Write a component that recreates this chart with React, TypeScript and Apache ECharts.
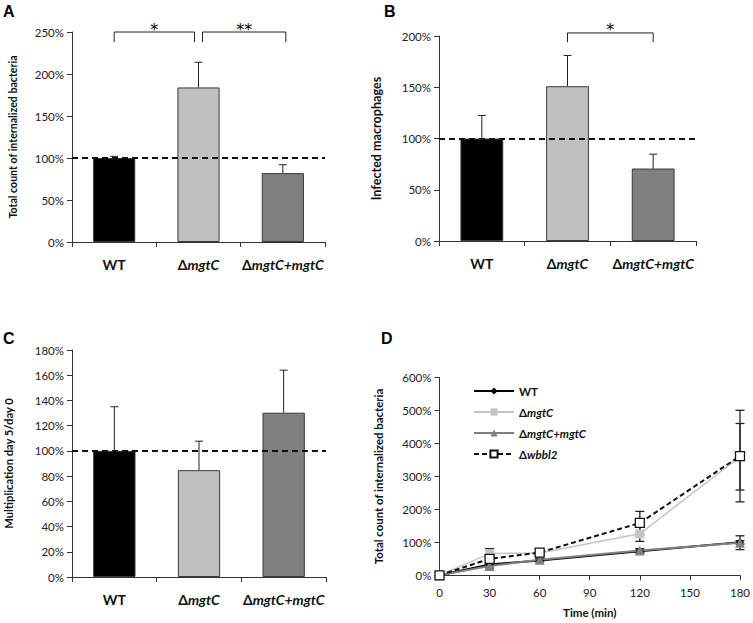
import React, { useEffect, useRef } from "react";
import * as echarts from "echarts";

// ---------- data ----------
const categories = ["WT", "ΔmgtC", "ΔmgtC+mgtC"];
const barColors = ["#000000", "#c0c0c0", "#808080"];

const aValues = [100, 184, 82];
const aUpper = [102, 214, 92];
const bValues = [100, 151, 70.7];
const bUpper = [122.5, 181, 84.7];
const cValues = [100, 84.7, 130.3];
const cUpper = [135, 107.7, 164];

const aBrackets = [
  [0, 1, 250, 238, 0, -4],
  [1, 2, 250, 238, 4, 3],
];
const aStars = ["*", "**"];
const bBrackets = [[1, 2, 203, 194, 0, 0]];
const bStars = ["*"];

const dTime = [0, 30, 60, 120, 180];
const dWT = [0, 33, 45, 73, 100];
const dMgtC = [0, 66, 68, 126, 360];
const dComp = [0, 28, 47, 75, 99];
const dWbbl2 = [0, 50, 69, 159, 362];
const dWTErr = [0, 4, 4, 5, 5];
const dMgtCErr = [0, 15, 6, 23, 101];
const dCompErr = [0, 6, 5, 6, 21];
const dWbbl2Err = [0, 8, 5, 35, 139];

const FONT = "Lato";

function richName(name: string) {
  if (name.startsWith("Δ")) return "{d|Δ}{i|" + name.slice(1) + "}";
  return "{n|" + name + "}";
}

function richStyles(size: number) {
  return {
    n: { fontSize: size, fontWeight: "bold", fontFamily: FONT, color: "#111" },
    d: { fontSize: size, fontWeight: "bold", fontFamily: FONT, color: "#111" },
    i: { fontSize: size, fontWeight: "bold", fontStyle: "italic", fontFamily: FONT, color: "#111" },
  };
}

const axisLineStyle = { color: "#333", width: 1 };

function catAxis(gridIndex: number) {
  return {
    type: "category",
    gridIndex,
    data: categories,
    boundaryGap: true,
    axisLine: { lineStyle: axisLineStyle },
    axisTick: { show: true, length: 5, lineStyle: axisLineStyle },
    axisLabel: {
      interval: 0,
      margin: 15,
      formatter: (v: string) => richName(v),
      rich: richStyles(14),
    },
  };
}

function valAxis(
  gridIndex: number,
  max: number,
  interval: number,
  name: string,
  nameGap: number,
  nameSize: number
) {
  return {
    type: "value",
    gridIndex,
    min: 0,
    max,
    interval,
    name,
    nameLocation: "middle",
    nameGap,
    nameTextStyle: { fontSize: nameSize, fontWeight: "bold", fontFamily: FONT, color: "#111" },
    axisLine: { show: true, lineStyle: axisLineStyle },
    axisTick: { show: true, length: 5, lineStyle: axisLineStyle },
    splitLine: { show: false },
    axisLabel: { formatter: "{value}%", fontSize: 11.5, fontFamily: FONT, color: "#222", margin: 8 },
  };
}

function barSeries(idx: number, values: number[]) {
  return {
    type: "bar",
    xAxisIndex: idx,
    yAxisIndex: idx,
    barWidth: "50%",
    data: values.map((v, i) => ({
      value: v,
      itemStyle: { color: barColors[i], borderColor: "#3a3a3a", borderWidth: 1 },
    })),
    markLine: {
      silent: true,
      symbol: "none",
      label: { show: false },
      lineStyle: { type: [6, 4], color: "#111", width: 2 },
      data: [{ yAxis: 100 }],
    },
  };
}

function upperErrSeries(idx: number, values: number[], upper: number[]) {
  return {
    type: "custom",
    xAxisIndex: idx,
    yAxisIndex: idx,
    silent: true,
    clip: false,
    data: values.map((v, i) => [i, v, upper[i]]),
    renderItem: (params: any, api: any) => {
      const x = api.value(0);
      const p0 = api.coord([x, api.value(1)]);
      const p1 = api.coord([x, api.value(2)]);
      const st = { stroke: "#222", lineWidth: 1 };
      return {
        type: "group",
        children: [
          { type: "line", shape: { x1: p0[0], y1: p0[1], x2: p1[0], y2: p1[1] }, style: st },
          { type: "line", shape: { x1: p1[0] - 4, y1: p1[1], x2: p1[0] + 4, y2: p1[1] }, style: st },
        ],
      };
    },
  };
}

function bracketSeries(idx: number, brackets: number[][], stars: string[]) {
  return {
    type: "custom",
    xAxisIndex: idx,
    yAxisIndex: idx,
    silent: true,
    clip: false,
    data: brackets,
    renderItem: (params: any, api: any) => {
      const c1 = api.value(0), c2 = api.value(1), top = api.value(2), bot = api.value(3);
      const o1 = api.value(4), o2 = api.value(5);
      const pa = api.coord([c1, top]);
      const pb = api.coord([c2, top]);
      const yb = api.coord([c1, bot])[1];
      const x1 = pa[0] + o1, x2 = pb[0] + o2, yt = pa[1];
      return {
        type: "group",
        children: [
          {
            type: "polyline",
            shape: { points: [[x1, yb], [x1, yt], [x2, yt], [x2, yb]] },
            style: { stroke: "#222", lineWidth: 1, fill: null },
          },
          {
            type: "text",
            x: (x1 + x2) / 2,
            y: yt - 3,
            style: {
              text: stars[params.dataIndex],
              fontSize: 16,
              fontFamily: "DejaVu Sans",
              fill: "#000",
              stroke: null,
              align: "center",
              verticalAlign: "middle",
            },
          },
        ],
      };
    },
  };
}

function dErrSeries(values: number[], errs: number[]) {
  const data: number[][] = [];
  dTime.forEach((t, i) => {
    if (errs[i] > 0) data.push([t, values[i] - errs[i], values[i] + errs[i]]);
  });
  return {
    type: "custom",
    xAxisIndex: 3,
    yAxisIndex: 3,
    silent: true,
    clip: false,
    z: 1,
    data,
    renderItem: (params: any, api: any) => {
      const x = api.value(0);
      const p0 = api.coord([x, api.value(1)]);
      const p1 = api.coord([x, api.value(2)]);
      const st = { stroke: "#222", lineWidth: 1.3 };
      return {
        type: "group",
        children: [
          { type: "line", shape: { x1: p0[0], y1: p0[1], x2: p1[0], y2: p1[1] }, style: st },
          { type: "line", shape: { x1: p1[0] - 4.5, y1: p1[1], x2: p1[0] + 4.5, y2: p1[1] }, style: st },
          { type: "line", shape: { x1: p0[0] - 4.5, y1: p0[1], x2: p0[0] + 4.5, y2: p0[1] }, style: st },
        ],
      };
    },
  };
}

function lineSeries(name: string, values: number[], opts: any) {
  return {
    name,
    type: "line",
    xAxisIndex: 3,
    yAxisIndex: 3,
    z: 3,
    data: dTime.map((t, i) => [t, values[i]]),
    ...opts,
  };
}

function panelLetter(text: string, x: number, y: number) {
  return {
    type: "text",
    x,
    y,
    style: { text, fontSize: 16, fontWeight: "bold", fontFamily: "Liberation Sans", fill: "#000" },
  };
}

export default function App() {
  const ref = useRef<HTMLDivElement>(null);
  useEffect(() => {
    if (!ref.current) return;
    const chart = echarts.init(ref.current, null, { renderer: "svg" });
    const option: any = {
      animation: false,
      backgroundColor: "#ffffff",
      textStyle: { fontFamily: FONT },
      graphic: [
        panelLetter("A", 3, 3),
        panelLetter("B", 384, 3),
        panelLetter("C", 3, 330),
        panelLetter("D", 381, 330),
      ],
      grid: [
        { left: 72, top: 32, width: 253, height: 210 },
        { left: 439, top: 36, width: 257, height: 205 },
        { left: 72, top: 350, width: 254, height: 227 },
        { left: 439.5, top: 377.7, width: 301, height: 197.6 },
      ],
      legend: {
        orient: "vertical",
        left: 468,
        top: 380,
        itemWidth: 40,
        itemHeight: 9,
        itemGap: 9,
        data: ["WT", "ΔmgtC", "ΔmgtC+mgtC", "Δwbbl2"],
        formatter: (n: string) => richName(n),
        textStyle: { rich: richStyles(11.5) },
      },
      xAxis: [
        catAxis(0),
        catAxis(1),
        catAxis(2),
        {
          type: "value",
          gridIndex: 3,
          min: 0,
          max: 180,
          interval: 30,
          name: "Time (min)",
          nameLocation: "middle",
          nameGap: 31,
          nameTextStyle: { fontSize: 11.5, fontWeight: "bold", fontFamily: FONT, color: "#111" },
          axisLine: { lineStyle: axisLineStyle },
          axisTick: { show: true, length: 5, lineStyle: axisLineStyle },
          splitLine: { show: false },
          axisLabel: { fontSize: 11.5, fontFamily: FONT, color: "#222", margin: 11 },
        },
      ],
      yAxis: [
        valAxis(0, 250, 50, "Total count of internalized bacteria", 54, 10.6),
        valAxis(1, 200, 50, "Infected macrophages", 56, 12.6),
        valAxis(2, 180, 20, "Multiplication day 5/day 0", 58, 11.2),
        valAxis(3, 600, 100, "Total count of internalized bacteria", 56, 11.4),
      ],
      series: [
        barSeries(0, aValues),
        upperErrSeries(0, aValues, aUpper),
        bracketSeries(0, aBrackets, aStars),
        barSeries(1, bValues),
        upperErrSeries(1, bValues, bUpper),
        bracketSeries(1, bBrackets, bStars),
        barSeries(2, cValues),
        upperErrSeries(2, cValues, cUpper),
        dErrSeries(dWT, dWTErr),
        dErrSeries(dComp, dCompErr),
        dErrSeries(dMgtC, dMgtCErr),
        dErrSeries(dWbbl2, dWbbl2Err),
        lineSeries("WT", dWT, {
          symbol: "diamond",
          symbolSize: 8,
          itemStyle: { color: "#000" },
          lineStyle: { color: "#000", width: 2 },
        }),
        lineSeries("ΔmgtC", dMgtC, {
          symbol: "rect",
          symbolSize: 9,
          itemStyle: { color: "#c4c4c4" },
          lineStyle: { color: "#c4c4c4", width: 1.5 },
        }),
        lineSeries("ΔmgtC+mgtC", dComp, {
          symbol: "triangle",
          symbolSize: 10,
          itemStyle: { color: "#808080" },
          lineStyle: { color: "#808080", width: 2 },
        }),
        lineSeries("Δwbbl2", dWbbl2, {
          symbol: "rect",
          symbolSize: 9,
          itemStyle: { color: "#ffffff", borderColor: "#111", borderWidth: 1.3 },
          lineStyle: { color: "#111", width: 2, type: [5, 3] },
        }),
      ],
    };
    chart.setOption(option);
    return () => chart.dispose();
  }, []);
  return (
    <div
      ref={ref}
      style={{ position: "fixed", left: 0, top: 0, width: 753, height: 623, background: "#fff" }}
    />
  );
}
